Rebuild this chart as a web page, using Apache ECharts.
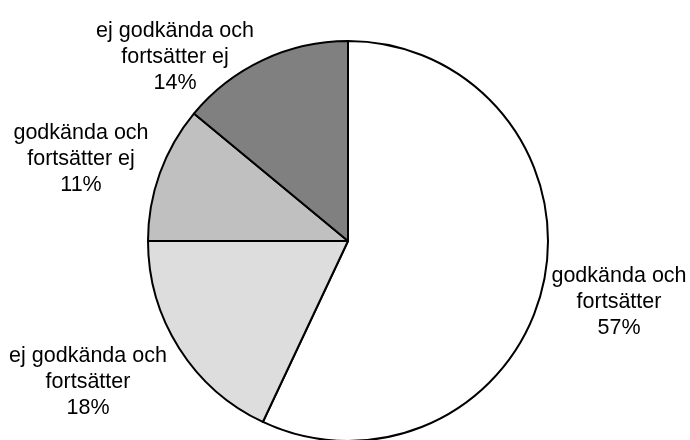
<!DOCTYPE html>
<html>
<head>
<meta charset="utf-8">
<script src="https://cdn.jsdelivr.net/npm/echarts@6/dist/echarts.min.js"></script>
<style>
    html, body { margin: 0; padding: 0; background: #fff; }
    #chart { width: 690px; height: 440px; }
</style>
</head>
<body>
<div id="chart"></div>
<script>
// slices, clockwise from 12 o'clock
const names = ['godkända och\nfortsätter', 'ej godkända och\nfortsätter', 'godkända och\nfortsätter ej', 'ej godkända och\nfortsätter ej']
const values = [57, 18, 11, 14]
const colors = ['#ffffff', '#dddddd', '#c0c0c0', '#808080']
// where each label sits (centre of text block)
const labelPos = [[619, 302], [88, 382], [81, 159], [175, 57]]

const chart = echarts.init(document.getElementById('chart'))
let data = []
values.forEach((v, i) => {
    data.push({
        name: names[i],
        value: v,
        itemStyle: { color: colors[i] }
    })
})
chart.setOption({
    animation: false,
    backgroundColor: '#ffffff',
    series: [
        {
            type: 'pie',
            center: [348, 241],
            radius: 200,
            startAngle: 90,
            clockwise: true,
            data: data,
            itemStyle: {
                borderColor: '#000000',
                borderWidth: 2
            },
            label: {
                show: true,
                position: 'outside',
                alignTo: 'none',
                overflow: 'none',
                fontFamily: 'Liberation Sans, Arial, sans-serif',
                fontSize: 21.5,
                lineHeight: 26,
                color: '#000000',
                align: 'center',
                formatter: p => p.name + '\n' + p.value + '%'
            },
            labelLine: { show: false },
            labelLayout: params => ({
                x: labelPos[params.dataIndex][0],
                y: labelPos[params.dataIndex][1],
                align: 'center',
                verticalAlign: 'middle'
            }),
            emphasis: { disabled: true }
        }
    ]
})
</script>
</body>
</html>
